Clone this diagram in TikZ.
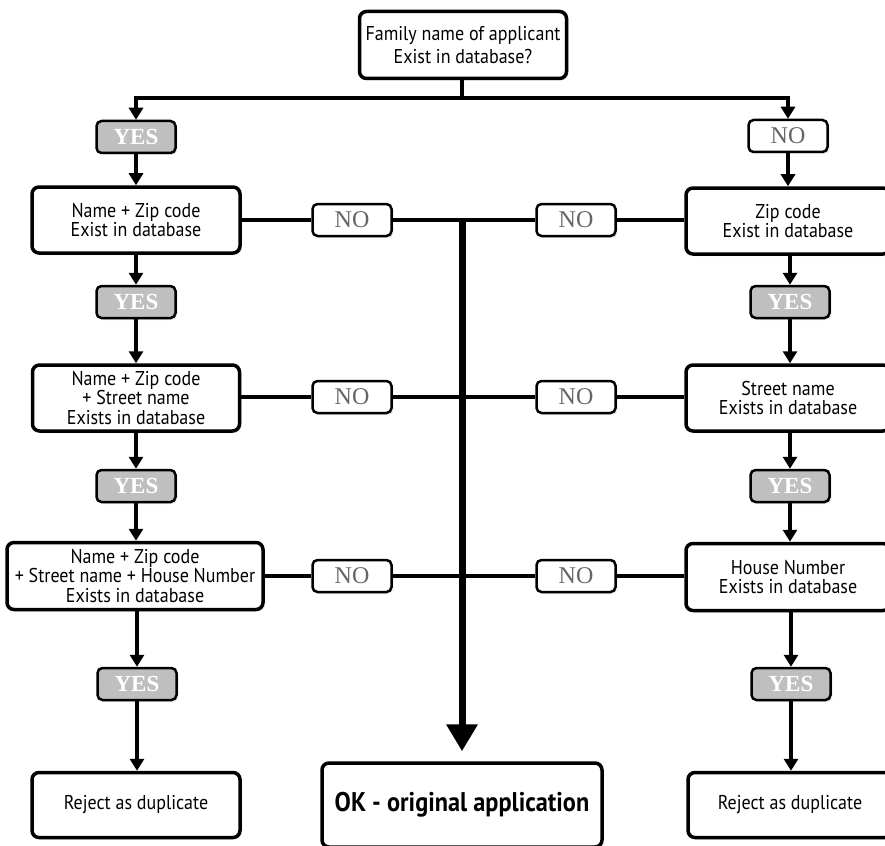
\documentclass[tikz,border=0pt]{standalone}
\usepackage{fontspec}
\setmainfont{Liberation Serif}
\setsansfont{PT Sans}[FakeStretch=0.9]
\usepackage{tikz}
\usetikzlibrary{arrows.meta, positioning, shadows}

\begin{document}
\begin{tikzpicture}[x=1pt, y=-1pt,
  box/.style={draw, line width=3.5pt, rounded corners=7pt, fill=white, align=center, inner sep=1pt,
    drop shadow={opacity=0.15, shadow xshift=2pt, shadow yshift=-2pt},
    font=\sffamily\fontsize{20}{19.5}\selectfont},
  yesbox/.style={draw, line width=2.5pt, rounded corners=5pt, fill=black!25, text=white,
    minimum width=79pt, minimum height=32pt, inner sep=0pt,
    drop shadow={opacity=0.15, shadow xshift=2pt, shadow yshift=-2pt},
    font=\fontsize{23}{23}\selectfont\bfseries},
  nobox/.style={draw, line width=2.5pt, rounded corners=5pt, fill=white, text=black!60,
    minimum width=79pt, minimum height=32pt, inner sep=0pt,
    drop shadow={opacity=0.15, shadow xshift=2pt, shadow yshift=-2pt},
    font=\fontsize{24}{24}\selectfont},
  link/.style={line width=3.2pt},
  arr/.style={line width=3.2pt, -{Triangle[width=14pt,length=12pt]}},
]
\useasboundingbox[fill=white] (0,0) rectangle (885,845);

% top question
\node[box, minimum width=207pt, minimum height=67pt, font=\sffamily\fontsize{20}{23}\selectfont]
  (family) at (463,45) {Family name of applicant\\Exist in database?};
\coordinate (split) at (462,98);

% left column
\node[yesbox] (yesL1) at (136,137) {YES};
\node[box, minimum width=208pt, minimum height=66pt] (nameZip) at (136,220)
  {Name + Zip code\\Exist in database};
\node[yesbox] (yesL2) at (136,302) {YES};
\node[box, minimum width=207pt, minimum height=66pt] (nameStreet) at (136,398)
  {Name + Zip code\\+ Street name\\Exists in database};
\node[yesbox] (yesL3) at (136,486) {YES};
\node[box, minimum width=256pt, minimum height=67pt, inner xsep=0pt] (nameHouse) at (135,576)
  {Name + Zip code\\+ Street name + House Number\\Exists in database};
\node[yesbox] (yesL4) at (137,684) {YES};
\node[box, minimum width=208pt, minimum height=65pt] (rejectL) at (136,805) {Reject as duplicate};

% right column
\node[nobox] (noTop) at (788,136) {NO};
\node[box, minimum width=204pt, minimum height=66pt] (zip) at (788,221)
  {Zip code\\Exist in database};
\node[yesbox] (yesR2) at (790,302) {YES};
\node[box, minimum width=204pt, minimum height=66pt] (street) at (788,398)
  {Street name\\Exists in database};
\node[yesbox] (yesR3) at (790,486) {YES};
\node[box, minimum width=204pt, minimum height=67pt] (house) at (788,577)
  {House Number\\Exists in database};
\node[yesbox] (yesR4) at (791,684) {YES};
\node[box, minimum width=204pt, minimum height=65pt] (rejectR) at (790,805) {Reject as duplicate};

% middle NO boxes
\node[nobox] (noL1) at (352,220) {NO};
\node[nobox] (noR1) at (576,220) {NO};
\node[nobox] (noL2) at (352,397) {NO};
\node[nobox] (noR2) at (576,397) {NO};
\node[nobox] (noL3) at (352,576) {NO};
\node[nobox] (noR3) at (576,576) {NO};

% final result
\node[box, minimum width=280pt, minimum height=84pt, font=\sffamily\bfseries\fontsize{27}{29}\selectfont]
  (ok) at (462,805) {OK - original application};

% connectors
\draw[link] (family.south -| split) -- (split);
\draw[arr] (split) -| (yesL1.north);
\draw[arr] (split) -| (noTop.north);

\draw[arr] (yesL1) -- (nameZip);
\draw[arr] (nameZip) -- (yesL2);
\draw[arr] (yesL2) -- (nameStreet);
\draw[arr] (nameStreet) -- (yesL3);
\draw[arr] (yesL3) -- (nameHouse.north -| yesL3);
\draw[arr] (nameHouse.south -| yesL4) -- (yesL4);
\draw[arr] (yesL4) -- (rejectL.north -| yesL4);

\draw[arr] (noTop) -- (zip);
\draw[arr] (zip.south -| yesR2) -- (yesR2);
\draw[arr] (yesR2) -- (street.north -| yesR2);
\draw[arr] (street.south -| yesR3) -- (yesR3);
\draw[arr] (yesR3) -- (house.north -| yesR3);
\draw[arr] (house.south -| yesR4) -- (yesR4);
\draw[arr] (yesR4) -- (rejectR.north -| yesR4);

\foreach \row/\lbox/\rbox in {1/nameZip/zip, 2/nameStreet/street, 3/nameHouse/house} {
  \draw[link] (\lbox.east |- noL\row) -- (noL\row.west);
  \draw[link] (noL\row.east) -- (noR\row.west);
  \draw[link] (noR\row.east) -- (\rbox.west |- noR\row);
}

\draw[line width=7pt, -{Triangle[width=30pt,length=27pt]}, shorten >=10pt]
  (split |- noL1.east) -- (ok.north -| split);
\end{tikzpicture}
\end{document}
